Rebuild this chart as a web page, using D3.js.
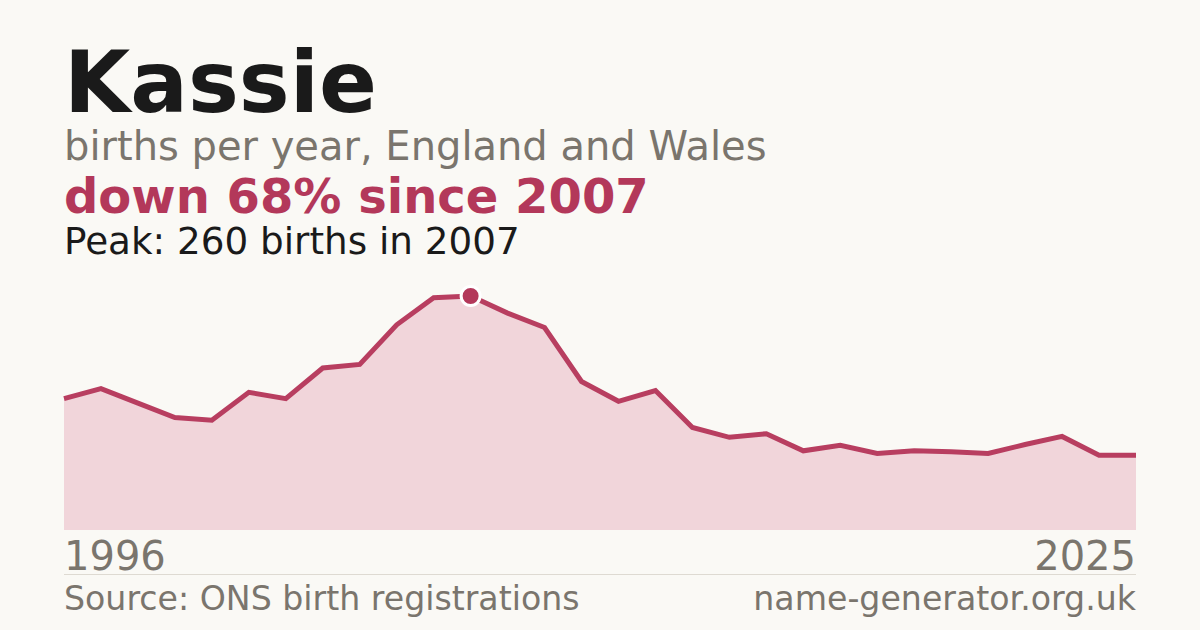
<!DOCTYPE html>
<html>
<head>
<meta charset="utf-8">
<script src="https://cdn.jsdelivr.net/npm/d3@7"></script>
<style>
  html, body { margin: 0; padding: 0; background: #faf9f5; }
  svg { display: block; }
  text { font-family: "DejaVu Sans", sans-serif; }
</style>
</head>
<body>
<div id="chart"></div>
<script>
const years = [1996, 1997, 1998, 1999, 2000, 2001, 2002, 2003, 2004, 2005,
  2006, 2007, 2008, 2009, 2010, 2011, 2012, 2013, 2014, 2015,
  2016, 2017, 2018, 2019, 2020, 2021, 2022, 2023, 2024, 2025];
const births = [146, 157, 141, 125, 122, 153, 146, 180, 184, 228,
  258, 260, 241, 225, 165, 143, 155, 114, 103, 107,
  88, 94, 85, 88, 87, 85, 95, 104, 83, 83];

const name = "Kassie";
const subtitle = "births per year, England and Wales";
const source = "Source: ONS birth registrations";
const site = "name-generator.org.uk";

const config = { width: 1200, height: 630, left: 64, right: 1136, top: 296, bottom: 530 };

const data = years.map((y, i) => ({ year: y, v: births[i] }));
const peak = data.reduce((a, b) => (b.v > a.v ? b : a));
const last = data[data.length - 1];
const drop = Math.round((1 - last.v / peak.v) * 100);

const svg = d3.select("#chart")
  .append("svg")
  .attr("width", config.width)
  .attr("height", config.height);

svg.append("rect")
  .attr("width", config.width)
  .attr("height", config.height)
  .attr("fill", "#faf9f5");

const xScale = d3.scaleLinear().domain(d3.extent(years)).range([config.left, config.right]);
const yScale = d3.scaleLinear().domain([0, peak.v]).range([config.bottom, config.top]);

// headings
svg.append("text")
  .attr("x", 64).attr("y", 112)
  .attr("font-size", 85.5).attr("font-weight", "bold")
  .attr("fill", "#1a1a1a")
  .text(name);

svg.append("text")
  .attr("x", 64).attr("y", 160)
  .attr("font-size", 40)
  .attr("fill", "#7a756d")
  .text(subtitle);

svg.append("text")
  .attr("x", 64).attr("y", 213)
  .attr("font-size", 48).attr("font-weight", "bold")
  .attr("fill", "#b3385a")
  .text(`down ${drop}% since ${peak.year}`);

svg.append("text")
  .attr("x", 64).attr("y", 254)
  .attr("font-size", 37.3)
  .attr("fill", "#1a1a1a")
  .text(`Peak: ${peak.v} births in ${peak.year}`);

// area + line
const area = d3.area()
  .x(d => xScale(d.year))
  .y0(yScale(0))
  .y1(d => yScale(d.v));

const line = d3.line()
  .x(d => xScale(d.year))
  .y(d => yScale(d.v));

svg.append("path")
  .datum(data)
  .attr("d", area)
  .attr("fill", "#f1d5da");

svg.append("path")
  .datum(data)
  .attr("d", line)
  .attr("fill", "none")
  .attr("stroke", "#b83e60")
  .attr("stroke-width", 5)
  .attr("stroke-linejoin", "miter");

svg.append("circle")
  .attr("cx", xScale(peak.year))
  .attr("cy", yScale(peak.v))
  .attr("r", 9.5)
  .attr("fill", "#b3385a")
  .attr("stroke", "#ffffff")
  .attr("stroke-width", 3);

// year labels
svg.append("text")
  .attr("x", 64).attr("y", 570)
  .attr("font-size", 40)
  .attr("fill", "#7a756d")
  .text(years[0]);

svg.append("text")
  .attr("x", 1136).attr("y", 570)
  .attr("font-size", 40)
  .attr("text-anchor", "end")
  .attr("fill", "#7a756d")
  .text(years[years.length - 1]);

svg.append("line")
  .attr("x1", 64).attr("x2", 1136)
  .attr("y1", 574.5).attr("y2", 574.5)
  .attr("stroke", "#dedad2")
  .attr("stroke-width", 1);

// footer
svg.append("text")
  .attr("x", 64).attr("y", 610)
  .attr("font-size", 33.2)
  .attr("fill", "#7a756d")
  .text(source);

svg.append("text")
  .attr("x", 1136).attr("y", 610)
  .attr("font-size", 33.2)
  .attr("text-anchor", "end")
  .attr("fill", "#7a756d")
  .text(site);
</script>
</body>
</html>
